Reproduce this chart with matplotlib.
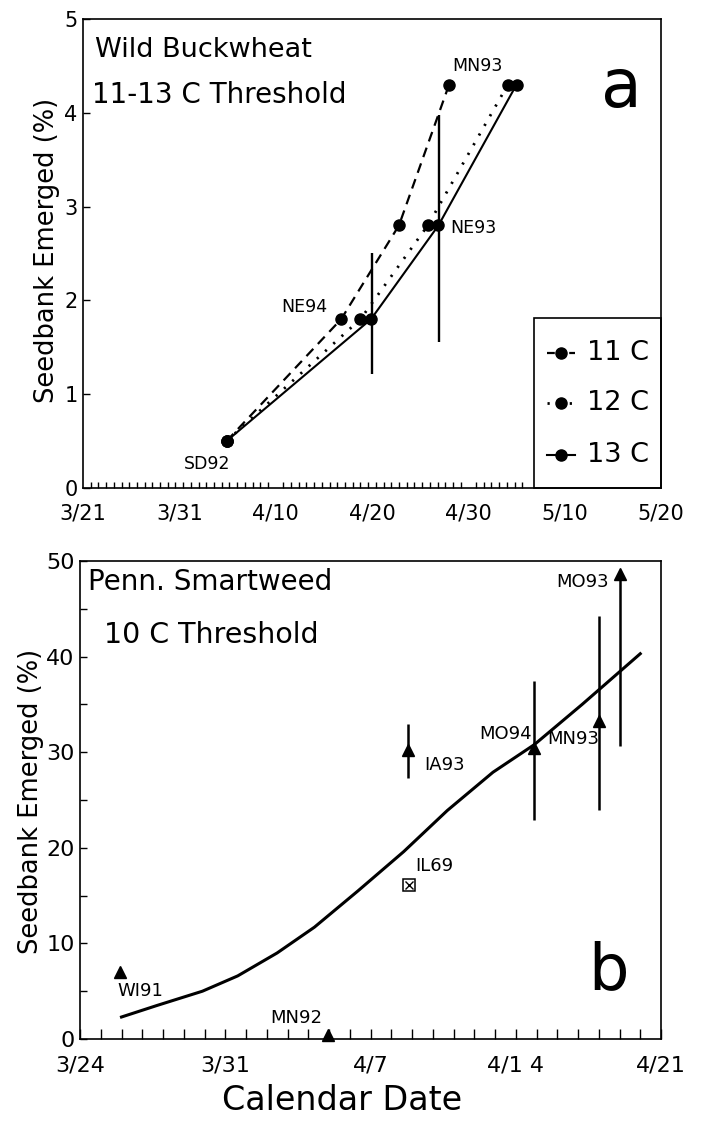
import numpy as np
import matplotlib.pyplot as plt
from matplotlib.ticker import FixedLocator, MultipleLocator

plt.rcParams['font.family'] = ['DejaVu Sans']

# ---- panel a : wild buckwheat (x = days after 3/21) ----
top_y = [0.5, 1.8, 2.8, 4.3]
day_11c = [14.9, 26.8, 32.8, 38.0]
day_12c = [14.9, 28.8, 35.8, 44.1]
day_13c = [14.9, 29.9, 36.9, 45.0]
top_err_day = [30.0, 37.0]
top_err_lo = [1.22, 1.56]
top_err_hi = [2.51, 3.98]
top_site = ['SD92', 'NE94', 'NE93', 'MN93']
top_site_day = [12.9, 23.0, 38.1, 40.9]
top_site_y = [0.26, 1.93, 2.77, 4.50]
top_site_ha = ['center', 'center', 'left', 'center']
top_xticks = [0, 10, 20, 30, 40, 50, 60]
top_xlabels = ['3/21', '3/31', '4/10', '4/20', '4/30', '5/10', '5/20']

# ---- panel b : Penn. smartweed (x = days after 3/24) ----
fit_day = [2.0, 3.7, 5.9, 7.6, 9.5, 11.3, 13.4, 15.6, 17.7, 19.9, 21.9, 24.2, 27.0]
fit_y = [2.3, 3.5, 5.0, 6.6, 9.0, 11.7, 15.5, 19.6, 23.9, 27.9, 30.8, 35.0, 40.3]
tri_site = ['WI91', 'MN92', 'IA93', 'MO94', 'MN93']
tri_day = [1.94, 11.93, 15.83, 21.86, 25.03]
tri_y = [6.97, 0.4, 30.2, 30.4, 33.3]
bar_day = [15.83, 21.86, 25.03, 26.0]
bar_lo = [27.3, 22.95, 24.0, 30.6]
bar_hi = [33.0, 37.5, 44.2, 48.4]
mo93_day = 26.0
mo93_y = 48.6
il69_day = 15.87
il69_y = 16.1
bot_lab = ['WI91', 'MN92', 'IA93', 'IL69', 'MO94', 'MN93', 'MO93']
bot_lab_day = [1.8, 10.4, 16.6, 16.15, 21.8, 22.5, 25.5]
bot_lab_y = [5.0, 2.2, 28.7, 18.1, 31.9, 31.4, 47.8]
bot_lab_ha = ['left', 'center', 'left', 'left', 'right', 'left', 'right']
bot_xticks = [0, 7, 14, 21, 28]
bot_xlabels = ['3/24', '3/31', '4/7', '4/1 4', '4/21']

W, H = 702, 1129
fig = plt.figure(figsize=(W / 100, H / 100), dpi=100)

def px_axes(l, t, r, b):
    return fig.add_axes([l / W, 1 - b / H, (r - l) / W, (b - t) / H])

# ================= panel a =================
ax = px_axes(83, 19, 661, 488)
ax.plot(day_11c, top_y, color='k', lw=1.6, dashes=(4.5, 3), marker='o', ms=8, zorder=3)
ax.plot(day_12c, top_y, color='k', lw=2.0, ls=(0, (0.8, 3.2)), marker='o', ms=8, zorder=3)
ax.plot(day_13c, top_y, color='k', lw=1.5, marker='o', ms=8, zorder=3)
ax.vlines(top_err_day, top_err_lo, top_err_hi, color='k', lw=1.7)
for s, d, y, ha in zip(top_site, top_site_day, top_site_y, top_site_ha):
    ax.text(d, y, s, fontsize=12.5, ha=ha, va='center')

ax.set_xlim(0, 60)
ax.set_ylim(0, 5)
ax.set_xticks(top_xticks)
ax.set_xticklabels(top_xlabels)
ax.xaxis.set_minor_locator(FixedLocator(np.arange(0, 46.2, 0.8)))
ax.tick_params(axis='x', which='major', length=0, pad=11, labelsize=15)
ax.tick_params(axis='x', which='minor', direction='in', length=4.5, width=1)
ax.yaxis.set_major_locator(MultipleLocator(1))
ax.tick_params(axis='y', direction='in', length=5, width=1, pad=4, labelsize=15)
for sp in ax.spines.values():
    sp.set_linewidth(1.2)

ax.text(0.021, 0.919, 'Wild Buckwheat', transform=ax.transAxes, fontsize=19.5)
ax.text(0.015, 0.821, '11-13 C Threshold', transform=ax.transAxes, fontsize=20)
ax.text(0.932, 0.813, 'a', transform=ax.transAxes, fontsize=48, ha='center', va='baseline')

# legend box
ax.add_patch(plt.Rectangle((0.780, 0), 0.22, 0.3625, transform=ax.transAxes,
                           fill=False, ec='k', lw=1.2, clip_on=False, zorder=4))
leg_rows = [0.288, 0.181, 0.070]
leg_lab = ['11 C', '12 C', '13 C']
leg_style = [dict(lw=1.6, dashes=(3.5, 1.5)), dict(lw=2.0, ls=(0, (0.8, 3.2))), dict(lw=1.5)]
for ry, lab, st in zip(leg_rows, leg_lab, leg_style):
    ax.plot([0.803, 0.851], [ry, ry], color='k', transform=ax.transAxes, clip_on=False, **st)
    ax.plot([0.827], [ry], 'o', color='k', ms=8, transform=ax.transAxes, clip_on=False)
    ax.text(0.872, ry, lab, transform=ax.transAxes, fontsize=19.5, va='center')

fig.text(47 / W, 0.778, 'Seedbank Emerged (%)', rotation=90, ha='center', va='center', fontsize=18.5)

# ================= panel b =================
bx = px_axes(80, 561, 661, 1039)
bx.plot(fit_day, fit_y, color='k', lw=2.2, zorder=2)
bx.vlines(bar_day, bar_lo, bar_hi, color='k', lw=1.8)
bx.plot(tri_day, tri_y, '^', color='k', ms=8, ls='none', clip_on=False, zorder=3)
bx.plot([mo93_day], [mo93_y], '^', color='k', ms=8, clip_on=False, zorder=3)
bx.plot([il69_day], [il69_y], 's', mfc='white', mec='k', ms=8, mew=1.1, zorder=3)
bx.plot([il69_day], [il69_y], 'x', color='k', ms=6, mew=1.0, zorder=4)
for s, d, y, ha in zip(bot_lab, bot_lab_day, bot_lab_y, bot_lab_ha):
    bx.text(d, y, s, fontsize=13, ha=ha, va='center')

bx.set_xlim(0, 28)
bx.set_ylim(0, 50)
bx.set_xticks(bot_xticks)
bx.set_xticklabels(bot_xlabels)
bx.xaxis.set_minor_locator(MultipleLocator(1))
bx.tick_params(axis='x', which='both', direction='in', length=7, width=1, pad=12, labelsize=16)
bx.yaxis.set_major_locator(MultipleLocator(10))
bx.yaxis.set_minor_locator(MultipleLocator(5))
bx.tick_params(axis='y', which='both', direction='in', length=5, width=1, pad=4, labelsize=16)
for sp in bx.spines.values():
    sp.set_linewidth(1.2)

bx.text(0.014, 0.939, 'Penn. Smartweed', transform=bx.transAxes, fontsize=20)
bx.text(0.041, 0.829, '10 C Threshold', transform=bx.transAxes, fontsize=20.5)
bx.text(0.909, 0.105, 'b', transform=bx.transAxes, fontsize=46, ha='center', va='baseline')

fig.text(31 / W, 0.290, 'Seedbank Emerged (%)', rotation=90, ha='center', va='center', fontsize=18.5)
fig.text(342 / W, 1 - 1100 / H, 'Calendar Date', ha='center', va='center', fontsize=24)

fig.savefig('out.png', dpi=100)
